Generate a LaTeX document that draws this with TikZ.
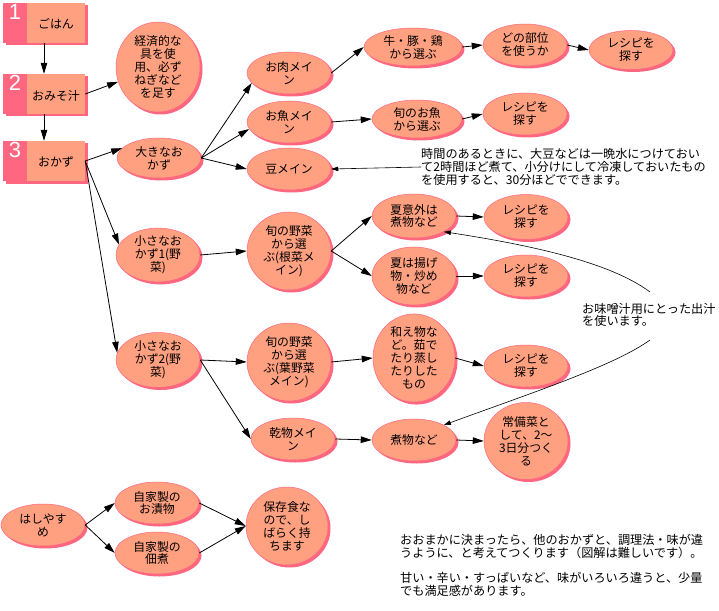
\documentclass[tikz,border=0pt]{standalone}
\usepackage{fontspec}
\newfontfamily\jp{Noto Sans CJK JP}
\newfontfamily\numf{Liberation Sans}
\usepackage{tikz}
\usetikzlibrary{arrows.meta,positioning,shapes.geometric,shadows}
\definecolor{salmon}{RGB}{255,160,128}
\definecolor{rosepink}{RGB}{255,102,128}
\tikzset{
  dish/.style={rectangle, fill=salmon, minimum width=82bp, minimum height=40bp, inner sep=0pt,
    drop shadow={shadow xshift=3bp, shadow yshift=-2.5bp, fill=rosepink, opacity=1}},
  numtab/.style={rectangle, fill=rosepink, minimum width=24bp, minimum height=40bp, inner sep=1bp,
    text=white, font=\numf\fontsize{22}{22}\selectfont, text height=16bp, text depth=22bp},
  dishname/.style={font=\jp\fontsize{12}{13}\selectfont, inner sep=0pt},
  idea/.style={ellipse, fill=salmon, draw=rosepink, line width=0.5bp, align=center,
    minimum width=84bp, minimum height=42bp, inner sep=0pt, font=\jp\fontsize{11.9}{13}\selectfont,
    drop shadow={shadow xshift=2.5bp, shadow yshift=-2.5bp, fill=rosepink, opacity=1}},
  memo/.style={align=left, inner sep=0pt, font=\jp\fontsize{12.2}{12.8}\selectfont},
  tr/.style={-{Triangle[length=11bp,width=6.5bp]}, line width=0.8bp},
  aside/.style={-{Triangle[length=7bp,width=4.5bp]}, line width=0.6bp},
}
\begin{document}
\begin{tikzpicture}[x=1bp, y=-1bp]
  \fill[white] (0,0) rectangle (719,611);
  \useasboundingbox (0,0) rectangle (719,611);

  \node[dish] (box1) at (44,23) {};
  \node[numtab, anchor=north west] (tab1) at (box1.north west) {1};
  \node[dishname] (gohan) at (56,24) {ごはん};
  \node[dish] (box2) at (44,94) {};
  \node[numtab, anchor=north west] (tab2) at (box2.north west) {2};
  \node[dishname] (misoshiru) at (56,96) {おみそ汁};
  \node[dish] (box3) at (44,161) {};
  \node[numtab, anchor=north west] (tab3) at (box3.north west) {3};
  \node[dishname] (okazu) at (56,162) {おかず};

  \node[idea, minimum height=90bp] (keizai) at (158,67) {経済的な\\具を使\\用、必ず\\ねぎなど\\を足す};
  \node[idea, minimum height=40bp] (ookina) at (159,158) {大きなお\\かず};
  \node[idea] (oniku) at (289,73) {お肉メイ\\ン};
  \node[idea] (osakana) at (289,122) {お魚メイ\\ン};
  \node[idea] (mame) at (289,169) {豆メイン};
  \node[idea, minimum width=98bp, minimum height=38bp] (gyu) at (413,47) {牛・豚・鶏\\から選ぶ};
  \node[idea, minimum width=90bp, minimum height=38bp] (sakana) at (417,119) {旬のお魚\\から選ぶ};
  \node[idea] (bui) at (525,45) {どの部位\\を使うか};
  \node[idea, minimum height=39bp] (recipeA) at (631,50) {レシピを\\探す};
  \node[idea] (recipeB) at (525,114) {レシピを\\探す};
  \node[memo, anchor=west] (note1) at (421,167) {時間のあるときに、大豆などは一晩水につけておい\\て2時間ほど煮て、小分けにして冷凍しておいたもの\\を使用すると、30分ほどでできます。};

  \node[idea, minimum height=52bp] (chiisa1) at (158,255) {小さなお\\かず1(野\\菜)};
  \node[idea, minimum height=78bp] (konsai) at (289,251) {旬の野菜\\から選\\ぶ(根菜メ\\イン)};
  \node[idea, minimum height=44bp] (natsuA) at (414,216) {夏意外は\\煮物など};
  \node[idea, minimum height=45bp] (recipeC) at (526,217) {レシピを\\探す};
  \node[idea, minimum height=58bp] (natsuB) at (414,276) {夏は揚げ\\物・炒め\\物など};
  \node[idea] (recipeD) at (526,276) {レシピを\\探す};
  \node[idea, minimum height=55bp] (chiisa2) at (158,360) {小さなお\\かず2(野\\菜)};
  \node[idea, minimum height=78bp] (happa) at (289,362) {旬の野菜\\から選\\ぶ(葉野菜\\メイン)};
  \node[idea, minimum height=86bp, minimum width=82bp] (aemono) at (414,358) {和え物な\\ど。茹で\\たり蒸し\\たりした\\もの};
  \node[idea] (recipeE) at (526,366) {レシピを\\探す};
  \node[memo, anchor=west] (dashi) at (582,315) {お味噌汁用にとった出汁\\を使います。};
  \node[idea] (kanbutsu) at (293,439) {乾物メイ\\ン};
  \node[idea] (nimono) at (414,440) {煮物など};
  \node[idea, minimum height=77bp] (jobisai) at (526,441) {常備菜と\\して、2〜\\3日分つく\\る};

  \node[idea] (hashi) at (43,525) {はしやす\\め};
  \node[idea] (tsuke) at (157,503) {自家製の\\お漬物};
  \node[idea] (tsukuda) at (157,553) {自家製の\\佃煮};
  \node[idea, minimum width=82bp, minimum height=78bp] (hozon) at (287,526) {保存食な\\ので、し\\ばらく持\\ちます};
  \node[memo, anchor=north west] (kotsu) at (400,534) {おおまかに決まったら、他のおかずと、調理法・味が違\\うように、と考えてつくります（図解は難しいです）。\\[12.8bp]甘い・辛い・すっぱいなど、味がいろいろ違うと、少量\\でも満足感があります。};

  \coordinate (dtop) at (650,292);
  \coordinate (dbot) at (650,340);

  \draw[tr] (box1) -- (box2);
  \draw[tr] (box2) -- (box3);
  \draw[tr] (box2.east) -- (keizai);
  \draw[tr] (box3.east) -- (ookina.165);
  \draw[tr] (box3.east) -- (chiisa1.165);
  \draw[tr] (box3.east) -- (chiisa2.170);
  \draw[tr] (ookina.east) -- (oniku.195);
  \draw[tr] (ookina.east) -- (osakana.190);
  \draw[tr] (ookina.east) -- (mame.west);
  \draw[tr] (oniku.east) -- (gyu.west);
  \draw[tr] (osakana.east) -- (sakana.west);
  \draw[tr] (gyu.east) -- (bui.west);
  \draw[tr] (bui.east) -- (recipeA.west);
  \draw[tr] (sakana.east) -- (recipeB.west);
  \draw[aside] (note1.west) -- (mame.east);
  \draw[tr] (chiisa1.east) -- (konsai.west);
  \draw[tr] (konsai.east) -- (natsuA.west);
  \draw[tr] (konsai.east) -- (natsuB.west);
  \draw[tr] (natsuA.east) -- (recipeC.west);
  \draw[tr] (natsuB.east) -- (recipeD.west);
  \draw[tr] (chiisa2.east) -- (happa.west);
  \draw[tr] (chiisa2.east) -- (kanbutsu.west);
  \draw[tr] (happa.east) -- (aemono.west);
  \draw[tr] (aemono.east) -- (recipeE.west);
  \draw[tr] (kanbutsu.east) -- (nimono.west);
  \draw[tr] (nimono.east) -- (jobisai.west);
  \draw[aside] (dtop) .. controls (610,262) and (530,245) .. (natsuA.south east);
  \draw[aside] (dbot) .. controls (615,365) and (540,390) .. (nimono.north east);
  \draw[tr] (hashi.east) -- (tsuke.west);
  \draw[tr] (hashi.east) -- (tsukuda.west);
  \draw[tr] (tsuke.east) -- (hozon.west);
  \draw[tr] (tsukuda.east) -- (hozon.west);
\end{tikzpicture}
\end{document}
